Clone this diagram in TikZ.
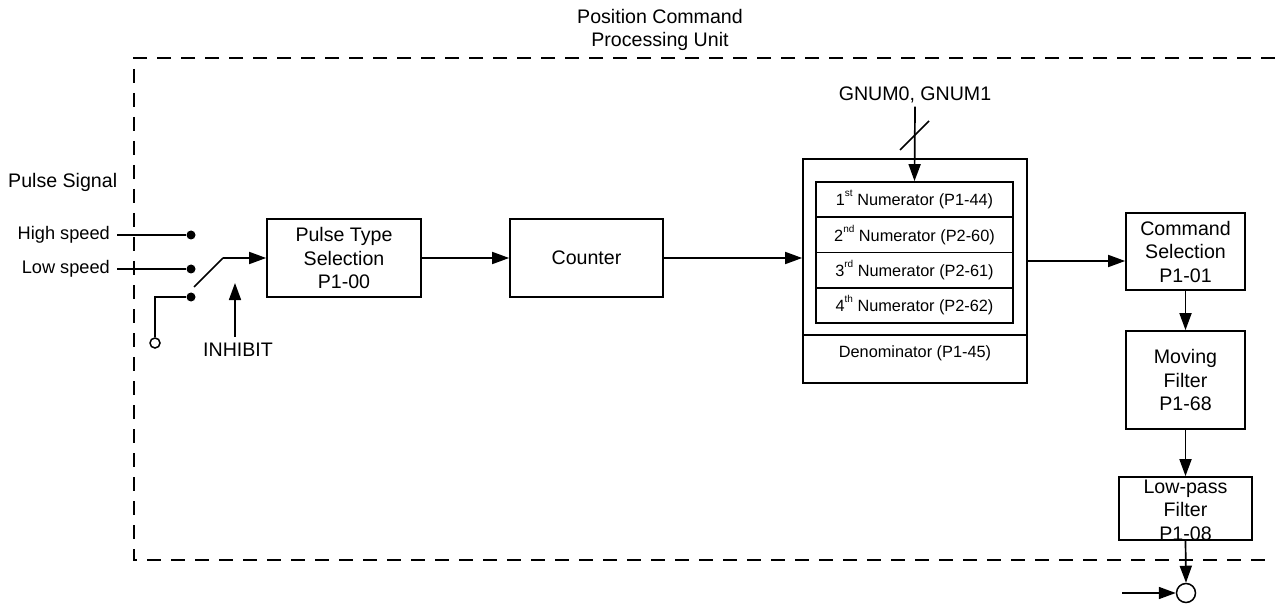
\documentclass[tikz,border=0pt]{standalone}
\usepackage{fontspec}
\setmainfont{Liberation Sans}
\usetikzlibrary{arrows.meta,calc}
\newcommand\mainfs{\fontsize{19.6}{23.5}\selectfont}
\newcommand\midfs{\fontsize{18.2}{22}\selectfont}
\newcommand\smallfs{\fontsize{16.3}{19}\selectfont}
\newcommand\supx[1]{\raisebox{0.55em}{\fontsize{10}{10}\selectfont #1}}
\tikzset{
  box/.style={draw, line width=1.7pt, inner sep=0pt, align=center, font=\mainfs},
  row/.style={draw, line width=1.7pt, inner sep=0pt, minimum width=197pt, minimum height=35.25pt, font=\smallfs},
  txt/.style={font=\mainfs, align=center},
  arr/.style={line width=1.7pt, -{Triangle[length=17pt,width=12pt]}},
  wire/.style={line width=1.7pt},
  dot/.style={circle, fill, inner sep=0pt, minimum size=9pt},
  odot/.style={circle, draw, line width=1.5pt, fill=white, inner sep=0pt},
}
\begin{document}
\begin{tikzpicture}[x=1pt,y=-1pt]
\useasboundingbox (0,0) rectangle (1275,604);
% dashed unit boundary
\draw[line width=1.8pt, dash pattern=on 14pt off 10pt] (1275,58) -- (134,58) -- (134,560) -- (1275,560);
\node[txt] (title) at (660,30) {Position Command\\Processing Unit};

% inputs
\node[txt, anchor=west, inner sep=0pt] (ps) at (8,182) {Pulse Signal};
\node[font=\midfs, anchor=east, inner sep=0pt] (high) at (110,235) {High speed};
\node[font=\midfs, anchor=east, inner sep=0pt] (low) at (110,269) {Low speed};
\node[dot] (d1) at (191,235) {};
\node[dot] (d2) at (191,269) {};
\node[dot] (d3) at (191,297) {};
\node[odot, minimum size=10pt] (oc) at (155,343) {};
\draw[wire] ([xshift=7pt]high.east) -- (d1);
\draw[wire] ([xshift=7pt]low.east) -- (d2);
\draw[wire] (oc.north) |- (d3);

% blocks
\node[box, minimum width=154pt, minimum height=78pt] (pts) at (344,258) {Pulse Type\\Selection\\P1-00};
\node[box, minimum width=153pt, minimum height=78pt] (cnt) at (586.5,258) {Counter};

% switch
\coordinate (sw1) at (194,287);
\coordinate (sw2) at (223,258);
\draw[wire] (sw1) -- (sw2);
\draw[arr] (sw2) -- (pts.west |- sw2);
\node[txt] (inh) at (238,350) {INHIBIT};
\coordinate (inhtip) at (235,283);
\draw[arr] (inh.north -| inhtip) ++(0,-3) -- (inhtip);

\draw[arr] (pts.east) -- (cnt.west);

% electronic gear block
\node[box, minimum width=224pt, minimum height=224pt] (big) at (915,271) {};
\node[row] (n1) at (914.5,199.6) {1\supx{st} Numerator (P1-44)};
\node[row] (n2) at (914.5,234.9) {2\supx{nd} Numerator (P2-60)};
\node[row] (n3) at (914.5,270.1) {3\supx{rd} Numerator (P2-61)};
\node[row] (n4) at (914.5,305.4) {4\supx{th} Numerator (P2-62)};
\node[draw, line width=1.7pt, inner sep=0pt, minimum width=224pt, minimum height=48pt] (den) at (915,359) {};
\node[font=\smallfs] (dentext) at (915,353) {Denominator (P1-45)};
\draw[arr] (cnt.east) -- (big.west |- cnt.east);

\node[txt] (gnum) at (915,95) {GNUM0, GNUM1};
\draw[arr] (gnum.south) -- (n1.north);
\draw[wire] (900,150) -- (929,121);

% right column
\node[box, minimum width=119pt, minimum height=77pt] (cmd) at (1185.5,251.5) {Command\\Selection\\P1-01};
\node[box, minimum width=119pt, minimum height=98pt] (mov) at (1185.5,380) {Moving\\Filter\\P1-68};
\node[box, minimum width=133pt, minimum height=63pt] (lp) at (1185.5,508.5) {};
\node[txt] (lptext) at (1185.5,510) {Low-pass\\Filter\\P1-08};
\coordinate (c1) at (1027,261);
\draw[arr] (big.east |- c1) -- (cmd.west |- c1);
\draw[arr] (cmd.south) -- (mov.north);
\draw[arr] (mov.south) -- (lp.north);

\node[odot, minimum size=19pt] (out) at (1186,593) {};
\draw[arr] (lp.south) -- (out.north);
\coordinate (inl) at (1122,593);
\draw[arr] (inl) -- (out.west);
\end{tikzpicture}
\end{document}
